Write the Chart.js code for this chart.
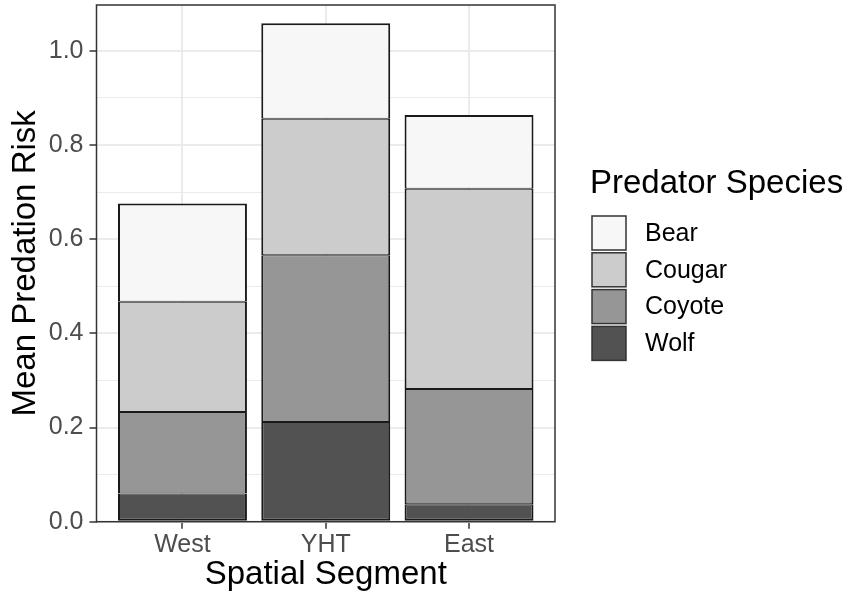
<!DOCTYPE html>
<html>
<head>
<meta charset="utf-8">
<script src="https://cdn.jsdelivr.net/npm/chart.js@4.4.0/dist/chart.umd.min.js"></script>
<style>
    html, body { margin: 0; padding: 0; background: #ffffff; }
</style>
</head>
<body>
<canvas id="ctx_risk" width="854" height="602"></canvas>
<script>
// values
var segments = ['West', 'YHT', 'East'];
var wolf   = [0.060, 0.212, 0.037];
var coyote = [0.173, 0.354, 0.245];
var cougar = [0.234, 0.290, 0.425];
var bear   = [0.209, 0.203, 0.157];
var y_max = 1.0975;

var font_family = '"Liberation Sans", Arial, sans-serif';
Chart.defaults.font.family = font_family;

function is_major (v) {
    return Math.round(v * 10) % 2 === 0;
}

function points (values) {
    return values.map(function (v, i) { return {x: i + 1, y: v}; });
}

// ggplot style panel border on top of everything
var panel_border = {
    id: 'panel_border',
    afterDraw: function (chart) {
        var a = chart.chartArea, c = chart.ctx;
        c.save();
        c.strokeStyle = '#333333';
        c.lineWidth = 1.5;
        c.strokeRect(a.left, a.top, a.right - a.left, a.bottom - a.top);
        c.restore();
    }
};

// legend on the right, top entry = top of the stack
var side_legend = {
    id: 'side_legend',
    afterDraw: function (chart) {
        var c = chart.ctx;
        var sets = chart.data.datasets.slice().reverse();
        c.save();
        c.fillStyle = '#000000';
        c.textAlign = 'left';
        c.textBaseline = 'alphabetic';
        c.font = '33px ' + font_family;
        c.fillText('Predator Species', 590, 193);
        c.font = '25px ' + font_family;
        c.textBaseline = 'middle';
        sets.forEach(function (ds, i) {
            var top = 216 + i * 36.8;
            c.fillStyle = ds.backgroundColor;
            c.fillRect(592, top, 34, 34);
            c.strokeStyle = '#333333';
            c.lineWidth = 1.5;
            c.strokeRect(592, top, 34, 34);
            c.fillStyle = '#000000';
            c.fillText(ds.label, 645, top + 18);
        });
        c.restore();
    }
};

var bar_common = {
    borderColor: '#1a1a1a',
    borderSkipped: false,
    categoryPercentage: 1.0,
    barPercentage: 0.9,
};

var chart_risk = new Chart(document.getElementById('ctx_risk').getContext('2d'), {
    type: 'bar',
    data: {
        datasets: [
            Object.assign({label: 'Wolf', data: points(wolf), backgroundColor: '#525252',
                borderWidth: {top: 1, bottom: 2, left: 2, right: 2}}, bar_common),
            Object.assign({label: 'Coyote', data: points(coyote), backgroundColor: '#969696',
                borderWidth: {top: 1, bottom: 1, left: 2, right: 2}}, bar_common),
            Object.assign({label: 'Cougar', data: points(cougar), backgroundColor: '#cccccc',
                borderWidth: {top: 1, bottom: 1, left: 2, right: 2}}, bar_common),
            Object.assign({label: 'Bear', data: points(bear), backgroundColor: '#f7f7f7',
                borderWidth: {top: 2, bottom: 1, left: 2, right: 2}}, bar_common),
        ]
    },
    options: {
        responsive: false,
        animation: false,
        layout: {
            padding: {top: 5, right: 299, bottom: 0, left: 0}
        },
        plugins: {
            legend: {display: false},
            tooltip: {enabled: false}
        },
        scales: {
            x: {
                type: 'linear',
                min: 0.4,
                max: 3.6,
                offset: false,
                stacked: true,
                afterBuildTicks: function (scale) {
                    scale.ticks = segments.map(function (s, i) { return {value: i + 1}; });
                },
                afterFit: function (scale) {
                    scale.height = 80.3;
                    scale.paddingLeft = 0;
                    scale.paddingRight = 0;
                },
                ticks: {
                    callback: function (v) { return segments[Math.round(v) - 1]; },
                    autoSkip: false,
                    maxRotation: 0,
                    color: '#4d4d4d',
                    font: {size: 25},
                    padding: 1,
                },
                grid: {
                    offset: false,
                    color: '#ebebeb',
                    lineWidth: 2,
                    tickColor: '#333333',
                    tickLength: 7,
                    tickWidth: 1.5,
                },
                border: {display: false},
                title: {
                    display: true,
                    text: 'Spatial Segment',
                    color: '#000000',
                    font: {size: 33},
                    padding: {top: 0, bottom: 7},
                }
            },
            y: {
                min: 0,
                max: y_max,
                stacked: true,
                afterFit: function (scale) {
                    scale.width = 96.5;
                    scale.paddingTop = 0;
                    scale.paddingBottom = 0;
                },
                ticks: {
                    stepSize: 0.1,
                    includeBounds: false,
                    callback: function (v) { return is_major(v) ? v.toFixed(1) : ''; },
                    color: '#4d4d4d',
                    font: {size: 25},
                    padding: 6,
                },
                grid: {
                    color: '#ebebeb',
                    lineWidth: function (ctx) { return ctx.tick && is_major(ctx.tick.value) ? 2 : 1; },
                    tickColor: function (ctx) { return ctx.tick && is_major(ctx.tick.value) ? '#333333' : 'rgba(0,0,0,0)'; },
                    tickLength: 7,
                    tickWidth: 1.5,
                },
                border: {display: false},
                title: {
                    display: true,
                    text: 'Mean Predation Risk',
                    color: '#000000',
                    font: {size: 33},
                    padding: {top: 6, bottom: 0},
                }
            }
        }
    },
    plugins: [panel_border, side_legend]
});
</script>
</body>
</html>
